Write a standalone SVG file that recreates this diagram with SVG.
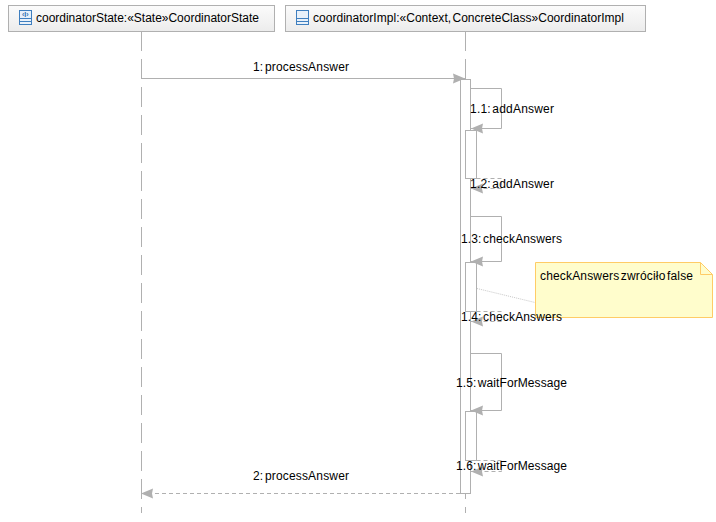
<svg xmlns="http://www.w3.org/2000/svg" width="716" height="522" viewBox="0 0 716 522">
<style>
text{font-family:"Liberation Sans",Arial,sans-serif;font-size:12px;fill:#000;word-spacing:-2px}
.hdr{fill:url(#hg);stroke:#b0b0b0;stroke-width:1}
.life{fill:none;stroke:#b0b0b0;stroke-width:1;stroke-dasharray:20 8}
.act{fill:#fff;stroke:#b0b0b0;stroke-width:1}
.msg{fill:none;stroke:#b0b0b0;stroke-width:1}
.ret{fill:none;stroke:#b0b0b0;stroke-width:1;stroke-dasharray:4 3}
.ic{fill:#e8f1fa;stroke:#3f7fbf;stroke-width:1}
.icl{fill:none;stroke:#3f7fbf;stroke-width:1}
</style>
<defs>
<linearGradient id="hg" x1="0" y1="0" x2="0" y2="1"><stop offset="0" stop-color="#fbfbfb"/><stop offset="1" stop-color="#ececec"/></linearGradient>
<marker id="ah" markerUnits="userSpaceOnUse" markerWidth="14" markerHeight="12" refX="12" refY="5.500" orient="auto"><path d="M0 0.500L12 5.500L0 10.500L1 5.500Z" fill="#b0b0b0"/></marker>
</defs>
<rect width="716" height="522" fill="#fff"/>
<g id="lifelines">
<path class="life" d="M141.500 31V513"/>
<path class="life" d="M465.500 31V513"/>
</g>
<g id="node-coordinatorState">
<rect class="hdr" x="8.500" y="5.500" width="266" height="26"/>
<rect class="ic" x="19.500" y="10.500" width="12" height="14"/>
<path class="icl" d="M19.500 18.500H31.500M19.500 21.500H31.500"/>
<text x="22" y="16.500" style="font-size:7px;fill:#2f6fb0;font-weight:bold">‹I›</text>
<text x="36" y="22" textLength="223">coordinatorState:«State»CoordinatorState</text>
</g>
<g id="node-coordinatorImpl">
<rect class="hdr" x="285.500" y="5.500" width="360" height="26"/>
<rect class="ic" x="296.500" y="10.500" width="12" height="14"/>
<path class="icl" d="M296.500 18.500H308.500M296.500 21.500H308.500"/>
<text x="313" y="22" textLength="311">coordinatorImpl:«Context, ConcreteClass»CoordinatorImpl</text>
</g>
<g id="activations">
<rect class="act" x="460.500" y="79.500" width="10" height="414"/>
<rect class="act" x="465.500" y="130.500" width="11" height="48"/>
<rect class="act" x="465.500" y="262.500" width="11" height="49"/>
<rect class="act" x="465.500" y="411.500" width="11" height="49"/>
</g>
<g id="connectors">
<path class="msg" d="M141 78.500H465" marker-end="url(#ah)"/>
<path class="msg" d="M470.500 88.500H501.500V128.500H471" marker-end="url(#ah)"/>
<path class="ret" d="M476.500 178.500H501.500V188.500H471" marker-end="url(#ah)"/>
<path class="msg" d="M470.500 216.500H501.500V261.500H471" marker-end="url(#ah)"/>
<path class="ret" d="M476.500 311.500H501.500V321.500H471" marker-end="url(#ah)"/>
<path class="msg" d="M470.500 353.500H501.500V410.500H471" marker-end="url(#ah)"/>
<path class="ret" d="M476.500 460.500H501.500V471.500H471" marker-end="url(#ah)"/>
<path class="ret" d="M460 493.500H141" marker-end="url(#ah)"/>
<path d="M477 288.500L535 302.500" fill="none" stroke="#c8c8c8" stroke-width="1" stroke-dasharray="1 1"/>
</g>
<g id="node-note">
<path d="M535.500 262.500H700.500L712.500 274.500V317.500H535.500Z" fill="#fffdcc" stroke="#ffcc66"/>
<path d="M700.500 262.500V274.500H712.500" fill="none" stroke="#ffcc66"/>
<text x="540" y="280" textLength="153">checkAnswers zwróciło false</text>
</g>
<g id="labels">
<text x="253" y="71" textLength="96">1: processAnswer</text>
<text x="470" y="113" textLength="84">1.1: addAnswer</text>
<text x="470" y="188" textLength="84">1.2: addAnswer</text>
<text x="461" y="243" textLength="101">1.3: checkAnswers</text>
<text x="461" y="321" textLength="101">1.4: checkAnswers</text>
<text x="456" y="387" textLength="111">1.5: waitForMessage</text>
<text x="456" y="470" textLength="111">1.6: waitForMessage</text>
<text x="253" y="480" textLength="96">2: processAnswer</text>
</g>
</svg>
